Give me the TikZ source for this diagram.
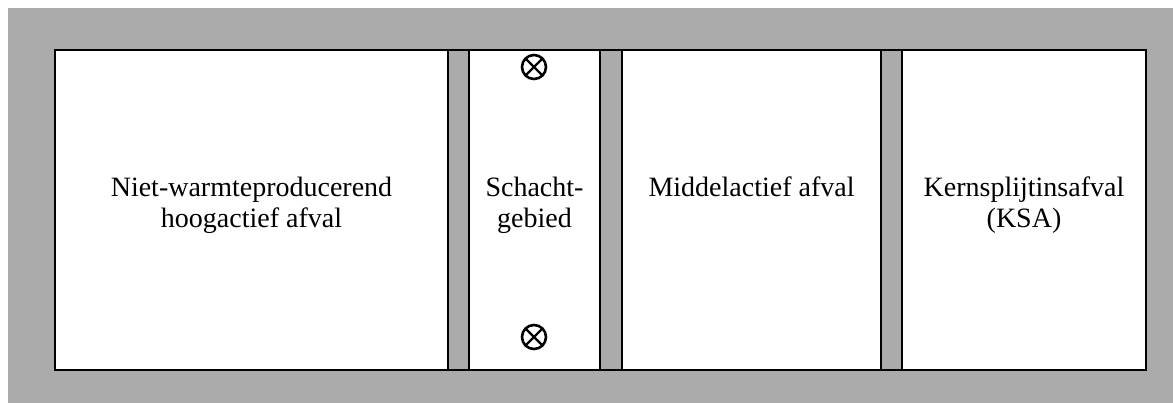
\documentclass[tikz,border=0pt]{standalone}
\usepackage{fontspec}
\setmainfont{Liberation Serif}
\definecolor{screen}{gray}{0.67}
\tikzset{
  bay/.style={draw=black, line width=2pt, fill=white, inner sep=0pt,
              minimum height=320pt},
  label/.style={anchor=north, align=center, inner sep=0pt,
                font=\fontsize{28}{31}\selectfont},
  shaft/.style={circle, draw=black, line width=2.6pt, inner sep=0pt,
                minimum size=24pt, path picture={
                  \draw[line width=2.4pt]
                    (path picture bounding box.south west) -- (path picture bounding box.north east)
                    (path picture bounding box.north west) -- (path picture bounding box.south east);}}
}
\begin{document}
\begin{tikzpicture}[x=1pt, y=-1pt]
  % page and grey backdrop of the repository plan
  \fill[white] (0,0) rectangle (1173,403);
  \fill[screen] (8,8) rectangle (1173,403);
  \useasboundingbox (0,0) rectangle (1173,403);

  % outer frame of the disposal zones
  \draw[line width=2.4pt] (55,50) rectangle (1146,370);

  % disposal bays, separated by the grey pillars
  \node[bay, minimum width=393pt] (hla) at (251.5,210) {};
  \node[bay, minimum width=131pt] (shaft) at (534.5,210) {};
  \node[bay, minimum width=259pt] (mla) at (751.5,210) {};
  \node[bay, minimum width=244pt] (ksa) at (1024,210) {};

  % bay labels
  \node[label] (hlatext) at (251.5,177) {Niet-warmteproducerend\\hoogactief afval};
  \node[label] (shafttext) at (534.5,177) {Schacht-\\gebied};
  \node[label] (mlatext) at (751.5,177) {Middelactief afval};
  \node[label] (ksatext) at (1024,177) {Kernsplijtinsafval\\(KSA)};

  % shaft positions
  \node[shaft] (shafttop) at (534,67) {};
  \node[shaft] (shaftbottom) at (534,337) {};
\end{tikzpicture}
\end{document}
